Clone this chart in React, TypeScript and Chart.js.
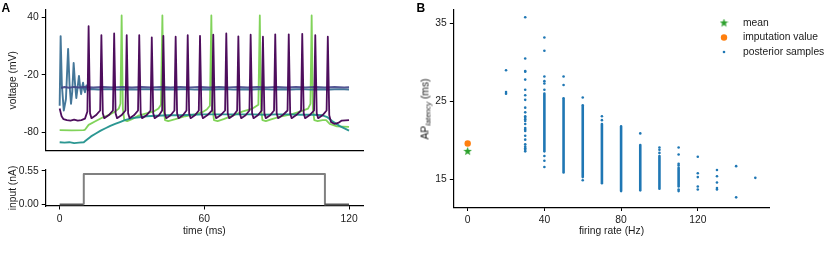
import React, { useEffect, useRef } from "react";
import { Chart, registerables } from "chart.js";
Chart.register(...registerables);

const FONT = "'Liberation Sans', Arial, Helvetica, sans-serif";
const FS = 10.3;

// ---------- Panel A: membrane voltage traces [time (ms), voltage (mV)] ----------
const tracePurple: number[][] = [
  [0, -55], [0.8, -63], [1.6, -66], [3, -67], [4.5, -67.5], [6, -66.5], [7.5, -67.5], [9, -67], [10.5, -65.5], [11.5, -58],
  [12.0, 30.8], [12.6, -60], [13.2, -65], [15.0, -62],
  [16.8, -57], [17.3, 21.5], [17.9, -60], [18.5, -65], [20.3, -62],
  [22.1, -57], [22.6, 23.3], [23.2, -60], [23.8, -65], [25.6, -62],
  [27.3, -57], [27.8, 21.5], [28.4, -60], [29.0, -65], [30.8, -62],
  [32.5, -57], [33.0, 21.5], [33.6, -60], [34.2, -65], [36.0, -62],
  [37.7, -57], [38.2, 19.2], [38.8, -60], [39.4, -65], [41.2, -62],
  [42.5, -57], [43.0, 20.8], [43.6, -60], [44.2, -65], [46.0, -62],
  [47.6, -57], [48.1, 19.8], [48.7, -60], [49.3, -65], [51.1, -62],
  [52.6, -57], [53.1, 21.5], [53.7, -60], [54.3, -65], [56.1, -62],
  [57.7, -57], [58.2, 20.8], [58.8, -60], [59.4, -65], [61.2, -62],
  [63.2, -57], [63.7, 22.0], [64.3, -60], [64.9, -65], [66.7, -62],
  [68.6, -57], [69.1, 23.3], [69.7, -60], [70.3, -65], [72.1, -62],
  [73.6, -57], [74.1, 20.2], [74.7, -60], [75.3, -65], [77.1, -62],
  [78.7, -57], [79.2, 21.9], [79.8, -60], [80.4, -65], [82.2, -62],
  [83.8, -57], [84.3, 19.8], [84.9, -60], [85.5, -65], [87.3, -62],
  [88.9, -57], [89.4, 22.3], [90.0, -60], [90.6, -65], [92.4, -62],
  [94.5, -57], [95.0, 22.3], [95.6, -60], [96.2, -65], [98.0, -62],
  [100.1, -57], [100.6, 22.9], [101.2, -60], [101.8, -65], [103.6, -62],
  [105.5, -57], [106.0, 21.5], [106.6, -60], [107.2, -65], [109.0, -62],
  [110.7, -57], [111.2, 19.8], [111.8, -62], [112.5, -69], [114, -71], [115.5, -70], [117, -67.5], [120, -67],
];

const traceDarkBlue: number[][] = [
  [0.6, -33.5], [2, -32.6], [4, -33.2], [6, -32.4], [8, -33.0], [10, -32.5], [14, -33.1], [18, -32.4], [22, -33.0],
  [26, -32.5], [30, -33.1], [34, -32.6], [38, -33.0], [42, -32.4], [46, -33.1], [50, -32.6], [54, -33.0], [58, -32.5],
  [62, -33.1], [66, -32.5], [70, -33.0], [74, -32.4], [78, -33.1], [82, -32.6], [86, -33.0], [90, -32.5], [94, -33.1],
  [98, -32.4], [102, -33.0], [106, -32.5], [110, -33.1], [114, -32.5], [118, -33.0], [120, -32.7],
];

const traceSteelBlue: number[][] = [
  [0, -52], [0.4, 20.5], [0.9, -30], [1.7, -57], [2.6, -45], [3.5, 7.2], [4.1, -30], [4.7, -50], [5.2, -38],
  [5.8, -7.5], [6.4, -30], [6.9, -44], [7.4, -34], [8.0, -21], [8.5, -33], [8.9, -40], [9.3, -33], [9.7, -28],
  [10.1, -35], [10.5, -38], [11.1, -31], [11.7, -36], [12.5, -34.6], [16, -35.2], [20, -34.7], [24, -35.3],
  [28, -34.8], [32, -35.2], [36, -34.7], [40, -35.3], [44, -34.8], [48, -35.2], [52, -34.7], [56, -35.3],
  [60, -34.8], [64, -35.2], [68, -34.7], [72, -35.3], [76, -34.8], [80, -35.2], [84, -34.7], [88, -35.3],
  [92, -34.8], [96, -35.2], [100, -34.7], [104, -35.3], [108, -34.8], [112, -35.2], [116, -34.7], [120, -35.1],
];

const traceTeal: number[][] = [
  [0, -90], [2, -90.5], [4, -90], [6, -91], [8, -90.5], [10, -90], [11, -88], [13, -84], [15, -81], [17, -78],
  [19, -75.5], [21, -73], [23, -71], [25, -69], [27, -67], [30, -65], [33, -64], [36, -63], [40, -62.5],
  [45, -62], [50, -62], [55, -61.5], [60, -61], [65, -61], [70, -61], [75, -61], [80, -61], [85, -61.5],
  [90, -61], [95, -61], [100, -61.5], [105, -61.5], [109, -62], [111, -64], [113, -68], [116, -73], [120, -78],
];

const traceGreen: number[][] = [
  [0, -77.5], [5, -77.8], [10, -77.5], [10.5, -77], [12, -72], [15, -68], [18, -64], [21, -61], [23, -58],
  [24.5, -55], [25.2, -50], [25.7, 42], [26.2, -55], [26.8, -67], [28, -68], [30, -66], [33, -62], [36, -60],
  [39, -58], [41, -55], [42, -51], [42.6, 42], [43.1, -55], [43.7, -67], [45, -68], [48, -66], [52, -63],
  [56, -61], [59, -59], [61, -56], [62.3, -52], [62.9, 42], [63.4, -55], [64, -67], [65.5, -68], [68, -66],
  [72, -62], [76, -58], [80, -55], [82.4, -51], [83.0, 42], [83.5, -55], [84.1, -67], [85.5, -68], [88, -66],
  [92, -63], [96, -61], [100, -58], [103, -55], [104, -50], [104.5, 42], [105, -55], [105.6, -67], [107, -68],
  [109, -67], [110.5, -67], [112, -71], [115, -73.5], [120, -74],
];

// input current [time (ms), current (nA)]
const inputCurrent: number[][] = [[0, 0], [10, 0], [10, 0.5], [110, 0.5], [110, 0], [120, 0]];

const voltageTicks = [-80, -20, 40];
const timeTicks = [0, 60, 120];
const inputTicks = [0, 0.55];

// ---------- Panel B ----------
const rateTicks = [0, 40, 80, 120];
const latencyTicks = [15, 25, 35];
const meanPoint = [0, 18.6];
const imputationPoint = [0, 19.6];
const sparseRates = [20, 30, 40, 50, 60, 70, 90, 100, 110, 120, 130, 140, 150];
const sparseLatencies: number[][] = [
  [29.0, 26.2, 26.0],
  [35.8, 30.5, 28.9, 28.8, 27.8, 26.5, 25.8, 25.2, 24.2, 23.6, 23.1, 22.9, 22.7, 22.5, 22.1, 21.6, 21.4, 21.2, 20.6, 20.1, 19.5, 19.2, 19.0, 18.8, 18.6],
  [33.2, 31.5, 28.2, 27.6, 27.3, 26.5, 18.0, 17.4, 16.6],
  [28.2, 27.1],
  [25.5, 14.9],
  [23.1, 22.6],
  [20.9],
  [19.1, 18.8, 18.4],
  [19.1, 18.2, 17.0, 16.8, 13.7, 13.5],
  [17.9, 15.8, 15.3, 14.1, 13.7],
  [16.2, 15.4, 14.6, 13.9, 13.7],
  [16.7, 12.7],
  [15.2],
];
const denseRates = [40, 50, 60, 70, 80, 90, 100, 110];
const denseLow = [18.6, 15.9, 15.3, 14.5, 13.5, 13.6, 13.8, 14.1];
const denseHigh = [26.0, 25.4, 24.5, 22.1, 21.8, 19.4, 18.0, 16.5];

const C_BLUE = "#1f77b4";
const C_ORANGE = "#ff7f0e";
const C_GREEN = "#2ca02c";
const TEXT = "#1a1a1a";

const toXY = (arr: number[][]) => arr.map(([x, y]) => ({ x, y }));
const fixedTicks = (vals: number[]) => (axis: any) => {
  axis.ticks = vals.map((v) => ({ value: v }));
};
const tickFont = { family: FONT, size: FS, weight: "normal" };

function axisBase(extra: any) {
  return {
    type: "linear",
    grid: { display: true, drawOnChartArea: false, drawTicks: true, tickLength: 3.5, color: "#000", lineWidth: 1 },
    border: { display: true, color: "#000", width: 1.2 },
    ticks: { color: TEXT, font: tickFont, padding: 3 },
    ...extra,
  };
}
const titleOpts = (text: string, pad: any) => ({
  display: true,
  text,
  color: TEXT,
  font: { family: FONT, size: FS, weight: "normal" },
  padding: pad,
});

function makeStar(color: string, size: number) {
  const c = document.createElement("canvas");
  c.width = size;
  c.height = size;
  const g = c.getContext("2d")!;
  g.fillStyle = color;
  g.beginPath();
  const cx = size / 2, cy = size / 2, R = size / 2, r = R * 0.42;
  for (let i = 0; i < 10; i++) {
    const a = -Math.PI / 2 + (i * Math.PI) / 5;
    const rad = i % 2 === 0 ? R : r;
    g.lineTo(cx + rad * Math.cos(a), cy + rad * Math.sin(a));
  }
  g.closePath();
  g.fill();
  return c;
}

function lineDs(data: number[][], color: string, width = 1.8) {
  return {
    data: toXY(data),
    showLine: true,
    borderColor: color,
    borderWidth: width,
    pointRadius: 0,
    tension: 0,
    borderJoinStyle: "round",
  };
}

export default function App() {
  const aTop = useRef<HTMLCanvasElement>(null);
  const aBot = useRef<HTMLCanvasElement>(null);
  const bRef = useRef<HTMLCanvasElement>(null);

  useEffect(() => {
    const charts: Chart[] = [];
    const common = {
      responsive: false,
      animation: false,
      plugins: { legend: { display: false }, tooltip: { enabled: false } },
      events: [],
    };

    // Panel A top: voltage
    charts.push(
      new Chart(aTop.current!, {
        type: "scatter",
        data: {
          datasets: [
            lineDs(tracePurple, "rgba(68,1,84,0.95)"),
            lineDs(traceDarkBlue, "rgba(65,68,135,0.9)", 2.0),
            lineDs(traceSteelBlue, "rgba(49,104,142,0.9)", 1.9),
            lineDs(traceTeal, "rgba(33,145,140,0.95)", 1.9),
            lineDs(traceGreen, "rgba(122,209,81,0.95)", 1.8),
          ] as any,
        },
        options: {
          ...common,
          layout: { padding: { left: 0, top: 9.7, right: 6.5, bottom: 0 } },
          scales: {
            x: {
              type: "linear",
              min: -6,
              max: 126,
              grid: { display: false },
              border: { display: true, color: "#000", width: 1.2 },
              ticks: { display: false },
              afterFit: (a: any) => { a.height = 7; },
            },
            y: axisBase({
              min: -99,
              max: 48,
              afterBuildTicks: fixedTicks(voltageTicks),
              afterFit: (a: any) => { a.width = 45.2; },
              title: titleOpts("voltage (mV)", { top: 6.5, bottom: 0 }),
            }),
          },
        } as any,
      })
    );

    // Panel A bottom: input current
    charts.push(
      new Chart(aBot.current!, {
        type: "scatter",
        data: {
          datasets: [
            {
              ...lineDs(inputCurrent, "#808080", 2),
              segment: {
                borderColor: (ctx: any) => (ctx.p0.parsed.y === 0 && ctx.p1.parsed.y === 0 ? "#555" : "#808080"),
              },
            },
          ] as any,
        },
        options: {
          ...common,
          layout: { padding: { left: 0, top: 10, right: 6.5, bottom: 18.8 } },
          scales: {
            x: axisBase({
              min: -6,
              max: 126,
              afterBuildTicks: fixedTicks(timeTicks),
              afterFit: (a: any) => { a.height = 35.2; },
              title: titleOpts("time (ms)", { top: 0, bottom: 4 }),
            }),
            y: axisBase({
              min: -0.025,
              max: 0.566,
              afterBuildTicks: fixedTicks(inputTicks),
              afterFit: (a: any) => { a.width = 45.2; },
              ticks: {
                color: TEXT,
                font: tickFont,
                padding: 3,
                callback: (v: any) => Number(v).toFixed(2),
              },
              title: titleOpts("input (nA)", { top: 6.5, bottom: 0 }),
            }),
          },
        } as any,
      })
    );

    // Panel B
    const star = makeStar(C_GREEN, 9);
    const sparse: { x: number; y: number }[] = [];
    sparseRates.forEach((r, i) => sparseLatencies[i].forEach((l) => sparse.push({ x: r, y: l })));
    const denseSets = denseRates.map((r, i) => ({
      data: [{ x: r, y: denseLow[i] }, { x: r, y: denseHigh[i] }],
      showLine: true,
      borderColor: C_BLUE,
      borderWidth: 2.6,
      borderCapStyle: "round",
      pointRadius: 0,
    }));
    const legendPlugin = {
      id: "customLegend",
      afterDraw(chart: any) {
        const ctx = chart.ctx;
        ctx.save();
        const mx = 324;
        ctx.drawImage(star, mx - star.width / 2, 23 - star.height / 2);
        ctx.fillStyle = C_ORANGE;
        ctx.beginPath();
        ctx.arc(mx, 37.5, 3.2, 0, Math.PI * 2);
        ctx.fill();
        ctx.fillStyle = C_BLUE;
        ctx.beginPath();
        ctx.arc(mx, 52, 1.3, 0, Math.PI * 2);
        ctx.fill();
        ctx.fillStyle = TEXT;
        ctx.font = `normal ${FS}px ${FONT}`;
        ctx.textBaseline = "middle";
        ctx.textAlign = "left";
        ctx.fillText("mean", 343, 23);
        ctx.fillText("imputation value", 343, 37.5);
        ctx.fillText("posterior samples", 343, 52);
        ctx.restore();
      },
    };
    charts.push(
      new Chart(bRef.current!, {
        type: "scatter",
        data: {
          datasets: [
            ...denseSets,
            { data: sparse, pointRadius: 1.3, pointBackgroundColor: C_BLUE, pointBorderWidth: 0 },
            { data: [{ x: imputationPoint[0], y: imputationPoint[1] }], pointRadius: 3.2, pointBackgroundColor: C_ORANGE, pointBorderWidth: 0 },
            { data: [{ x: meanPoint[0], y: meanPoint[1] }], pointStyle: star, pointRadius: 4.5, pointBorderWidth: 0 },
          ] as any,
        },
        options: {
          ...common,
          layout: { padding: { left: 0, top: 9.4, right: 60.3, bottom: 18.8 } },
          scales: {
            x: axisBase({
              min: -7.5,
              max: 157.5,
              afterBuildTicks: fixedTicks(rateTicks),
              afterFit: (a: any) => { a.height = 33.7; },
              title: titleOpts("firing rate (Hz)", { top: 0, bottom: 4 }),
            }),
            y: axisBase({
              min: 11.4,
              max: 36.8,
              afterBuildTicks: fixedTicks(latencyTicks),
              afterFit: (a: any) => { a.width = 53.3; },
            }),
          },
        } as any,
        plugins: [legendPlugin],
      })
    );

    return () => charts.forEach((c) => c.destroy());
  }, []);

  const label: React.CSSProperties = {
    position: "absolute",
    fontFamily: FONT,
    fontWeight: "bold",
    fontSize: 12,
    color: "#000",
    lineHeight: "12px",
  };

  return (
    <div style={{ position: "absolute", left: 0, top: 0, width: 830, height: 260, background: "#fff", overflow: "hidden" }}>
      <canvas ref={aTop} width={370} height={160} style={{ position: "absolute", left: 0, top: 0 }} />
      <canvas ref={aBot} width={370} height={100} style={{ position: "absolute", left: 0, top: 160 }} />
      <canvas ref={bRef} width={430} height={260} style={{ position: "absolute", left: 400, top: 0 }} />
      <div style={{ ...label, left: 1.5, top: 2 }}>A</div>
      <div style={{ ...label, left: 416.5, top: 2 }}>B</div>
      <div
        style={{
          position: "absolute",
          left: 427,
          top: 108.5,
          transform: "translate(-50%, -50%) rotate(-90deg)",
          whiteSpace: "nowrap",
          fontFamily: FONT,
          fontWeight: "normal",
          fontSize: FS,
          color: TEXT,
          lineHeight: "12px",
        }}
      >
        AP<sub style={{ fontStyle: "italic", fontWeight: "normal", fontSize: 7.5, verticalAlign: "-2px" }}>latency</sub> (ms)
      </div>
    </div>
  );
}
